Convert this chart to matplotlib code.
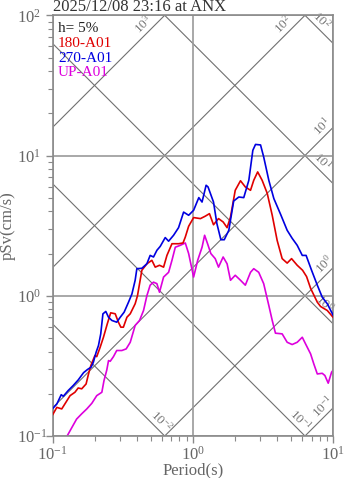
import numpy as np
import matplotlib.pyplot as plt

plt.rcParams['font.family'] = ['Liberation Serif', 'DejaVu Serif']
plt.rcParams['mathtext.fontset'] = 'custom'
plt.rcParams['mathtext.rm'] = 'Liberation Serif'
plt.rcParams['mathtext.it'] = 'Liberation Serif:italic'
plt.rcParams['mathtext.bf'] = 'Liberation Serif:bold'

# --- 180-A01 (red) ---
period_180 = [0.100, 0.107, 0.116, 0.122, 0.133, 0.144, 0.152, 0.161, 0.173, 0.180,
              0.187, 0.200, 0.206, 0.218, 0.230, 0.245, 0.259, 0.279, 0.294, 0.306,
              0.319, 0.338, 0.357, 0.387, 0.402, 0.420, 0.432, 0.469, 0.509, 0.538,
              0.577, 0.617, 0.652, 0.708, 0.789, 0.849, 0.881, 0.931, 1.01, 1.13,
              1.22, 1.31, 1.40, 1.52, 1.64, 1.75, 1.85, 2.00, 2.18, 2.36,
              2.57, 2.71, 2.89, 3.11, 3.38, 3.67, 3.98, 4.32, 4.69, 5.04,
              5.53, 6.04, 6.45, 6.89, 7.69, 8.11, 9.06, 10.0]
psv_180 = [0.142, 0.160, 0.156, 0.169, 0.194, 0.205, 0.220, 0.217, 0.235, 0.277,
           0.318, 0.375, 0.368, 0.430, 0.506, 0.631, 0.756, 0.744, 0.648, 0.597,
           0.597, 0.703, 0.744, 0.877, 1.00, 1.29, 1.52, 1.69, 1.79, 1.60,
           1.65, 1.60, 1.94, 2.35, 2.35, 2.38, 2.62, 3.13, 3.61, 3.55,
           3.69, 3.85, 3.21, 3.55, 3.36, 3.06, 3.64, 5.65, 6.61, 5.97,
           5.65, 6.66, 7.64, 6.66, 5.38, 3.75, 2.48, 1.84, 1.71, 1.84,
           1.65, 1.52, 1.37, 1.13, 0.900, 0.839, 0.785, 0.700]

# --- 270-A01 (blue) ---
period_270 = [0.100, 0.107, 0.115, 0.119, 0.129, 0.140, 0.152, 0.166, 0.177, 0.188,
              0.195, 0.204, 0.212, 0.220, 0.228, 0.239, 0.250, 0.264, 0.286, 0.303,
              0.323, 0.347, 0.367, 0.387, 0.398, 0.432, 0.469, 0.495, 0.523, 0.553,
              0.584, 0.634, 0.670, 0.727, 0.789, 0.857, 0.931, 1.01, 1.10, 1.16,
              1.24, 1.28, 1.40, 1.48, 1.58, 1.67, 1.80, 1.95, 2.12, 2.30,
              2.50, 2.67, 2.79, 3.03, 3.19, 3.47, 3.77, 4.21, 4.69, 5.09,
              5.53, 6.01, 6.40, 7.00, 7.69, 8.34, 9.06, 10.0]
psv_270 = [0.157, 0.169, 0.197, 0.192, 0.211, 0.229, 0.251, 0.283, 0.298, 0.310,
           0.336, 0.396, 0.442, 0.535, 0.743, 0.773, 0.703, 0.667, 0.648, 0.703,
           0.764, 0.900, 1.03, 1.29, 1.56, 1.57, 1.69, 1.94, 1.89, 2.11,
           2.25, 2.60, 2.45, 2.70, 3.06, 3.95, 3.75, 4.07, 5.01, 4.66,
           6.14, 5.97, 4.66, 3.27, 2.51, 2.51, 2.93, 4.74, 5.06, 5.01,
           6.66, 10.9, 12.0, 11.9, 9.77, 6.66, 4.93, 3.81, 2.93, 2.57,
           2.29, 1.94, 1.94, 1.52, 1.19, 0.977, 0.877, 0.723]

# --- UP-A01 (magenta) ---
period_up = [0.126, 0.137, 0.148, 0.161, 0.175, 0.190, 0.206, 0.224, 0.232, 0.243,
             0.250, 0.257, 0.271, 0.286, 0.311, 0.334, 0.357, 0.387, 0.416, 0.444,
             0.469, 0.495, 0.523, 0.553, 0.577, 0.617, 0.670, 0.708, 0.748, 0.812,
             0.881, 0.931, 1.01, 1.08, 1.16, 1.21, 1.27, 1.34, 1.44, 1.52,
             1.64, 1.75, 1.85, 2.00, 2.18, 2.36, 2.57, 2.71, 2.94, 3.19,
             3.47, 3.67, 3.87, 4.32, 4.69, 5.09, 5.53, 6.01, 6.34, 6.89,
             7.26, 7.69, 8.34, 8.71, 9.20, 9.72, 10.0]
psv_up = [0.099, 0.115, 0.132, 0.144, 0.156, 0.171, 0.194, 0.205, 0.248, 0.296,
          0.345, 0.341, 0.368, 0.407, 0.407, 0.418, 0.466, 0.614, 0.667, 0.785,
          1.00, 1.19, 1.25, 1.22, 1.06, 1.36, 1.47, 1.79, 2.22, 2.29,
          2.38, 2.00, 1.36, 1.79, 2.22, 2.70, 2.35, 2.00, 1.84, 1.60,
          1.89, 1.69, 1.29, 1.40, 1.29, 1.19, 1.47, 1.56, 1.47, 1.22,
          0.853, 0.667, 0.541, 0.535, 0.466, 0.449, 0.466, 0.506, 0.454, 0.385,
          0.327, 0.277, 0.280, 0.270, 0.238, 0.285, 0.296]

# tripartite guide levels
accel_levels = [1e-1, 1e0, 1e1, 1e2, 1e3]     # gal
accel_label_T = [9.25, 9.48, 9.18, 4.88, 0.488]
disp_levels = [1e-2, 1e-1, 1e0, 1e1, 1e2]      # cm
disp_label_T = [0.538, 5.3, 7.85, 7.6, 7.48]

fig = plt.figure(figsize=(3.47, 4.78), dpi=100)
ax = fig.add_axes([52.7 / 347, 1 - 436 / 478, 280.6 / 347, 420.7 / 478])

ax.set_xscale('log')
ax.set_yscale('log')
ax.set_xlim(0.1, 10)
ax.set_ylim(0.1, 100)

T = np.logspace(-1, 1, 200)
line_col = '#707070'
for a, tl in zip(accel_levels, accel_label_T):
    ax.plot(T, a * T / (2 * np.pi), color=line_col, lw=0.8, zorder=1)
    ax.annotate('10$^{%d}$' % int(np.log10(a)), xy=(tl, a * tl / (2 * np.pi)),
                xytext=(-6, 6), textcoords='offset pixels', rotation=45,
                ha='center', va='center', fontsize=9.5, color='#777777', zorder=1)
for d, tl in zip(disp_levels, disp_label_T):
    ax.plot(T, 2 * np.pi * d / T, color=line_col, lw=0.8, zorder=1)
    ax.annotate('10$^{%d}$' % int(np.log10(d)), xy=(tl, 2 * np.pi * d / tl),
                xytext=(6, 6), textcoords='offset pixels', rotation=-45,
                ha='center', va='center', fontsize=9.5, color='#777777', zorder=1)

ax.plot(period_180, psv_180, color='#e00000', lw=1.2, zorder=3)
ax.plot(period_270, psv_270, color='#0000e0', lw=1.2, zorder=3)
ax.plot(period_up, psv_up, color='#dd00dd', lw=1.2, zorder=2)

ax.grid(which='major', color='#9a9a9a', lw=1.2, zorder=0)
ax.grid(which='minor', visible=False)
for s in ax.spines.values():
    s.set_color('#8a8a8a')
    s.set_linewidth(1.2)
ax.tick_params(which='both', direction='out', colors='#8a8a8a', labelcolor='#666666',
               labelsize=12)
ax.tick_params(which='major', length=5, width=1)
ax.tick_params(which='minor', length=3.5, width=0.8)
ax.tick_params(axis='x', which='major', pad=2)
# y tick labels are left-aligned at the figure edge
ax.tick_params(axis='y', which='major', pad=21)
for lab in ax.get_yticklabels():
    lab.set_horizontalalignment('left')

fig.text(53 / 347, 1 - 11 / 478, '2025/12/08 23:16 at ANX', fontsize=12,
         color='#333333', va='baseline', ha='left')
legend_items = [('h= 5%', '#222222'), ('180-A01', '#e00000'),
                ('270-A01', '#0000e0'), ('UP-A01', '#dd00dd')]
for i, (txt, c) in enumerate(legend_items):
    fig.text(58 / 347, 1 - (29 + 14.5 * i) / 478, txt, fontsize=11, color=c,
             va='center', ha='left')

fig.text(8 / 347, 1 - 225.6 / 478, 'pSv(cm/s)', rotation=90, fontsize=12,
         color='#666666', va='center', ha='center')
fig.text(193 / 347, 1 - 470 / 478, 'Period(s)', fontsize=12,
         color='#666666', va='center', ha='center')

fig.savefig('out.png', dpi=100)
